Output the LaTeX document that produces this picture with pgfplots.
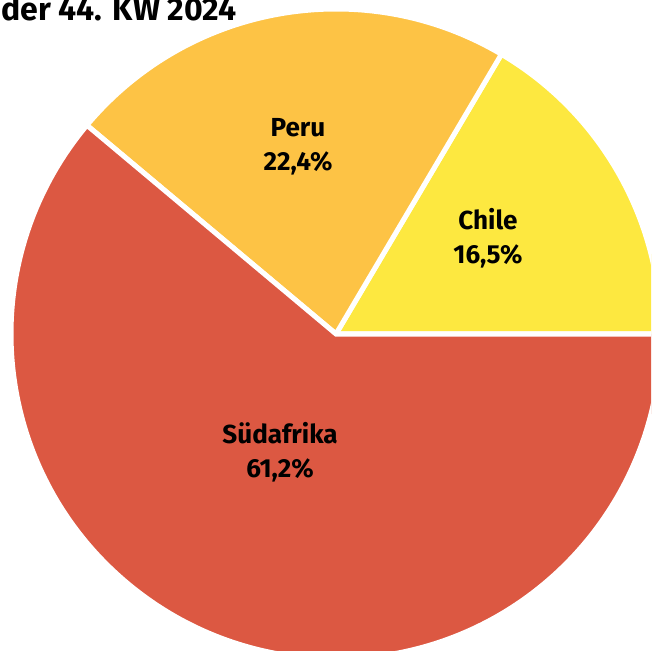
\documentclass[border=0pt]{standalone}
\usepackage{pgfplots}
\pgfplotsset{compat=1.18}
\usepackage{fontspec}
\setmainfont{Fira Sans}
\definecolor{suedafrika}{HTML}{DC5842}
\definecolor{peru}{HTML}{FDC345}
\definecolor{chile}{HTML}{FDE840}
\begin{document}
\begin{tikzpicture}
\clip (0,0) rectangle (10cm,10cm);
\begin{axis}[
  at={(0,0)}, anchor=south west,
  width=10cm, height=10cm, scale only axis,
  xmin=0, xmax=651, ymin=0, ymax=651,
  hide axis, clip=false,
]
% values in percent: Chile 16.5, Peru 22.4, Suedafrika 61.2
\def\R{4.9923cm}
\fill[chile, draw=white, line width=2.2pt, line join=miter]
  (axis cs:336,317) -- ++(0:\R) arc[start angle=0, end angle={16.5*3.6}, radius=\R] -- cycle;
\fill[peru, draw=white, line width=2.2pt, line join=miter]
  (axis cs:336,317) -- ++({16.5*3.6}:\R) arc[start angle={16.5*3.6}, end angle={(16.5+22.4)*3.6}, radius=\R] -- cycle;
\fill[suedafrika, draw=white, line width=2.2pt, line join=miter]
  (axis cs:336,317) -- ++({(16.5+22.4)*3.6}:\R) arc[start angle={(16.5+22.4)*3.6}, end angle=360, radius=\R] -- cycle;
\node[align=center, font=\fontsize{11.4}{14.9}\selectfont\bfseries] at (axis cs:298,504) {Peru\\22,4\%};
\node[align=center, font=\fontsize{11.4}{14.9}\selectfont\bfseries] at (axis cs:488,413) {Chile\\16,5\%};
\node[align=center, font=\fontsize{11.4}{14.9}\selectfont\bfseries] at (axis cs:280,199) {Südafrika\\61,2\%};
\node[anchor=base west, inner sep=0pt, font=\fontsize{14}{16}\selectfont\bfseries] at (axis cs:1,630) {der 44. KW 2024};
\end{axis}
\end{tikzpicture}
\end{document}
